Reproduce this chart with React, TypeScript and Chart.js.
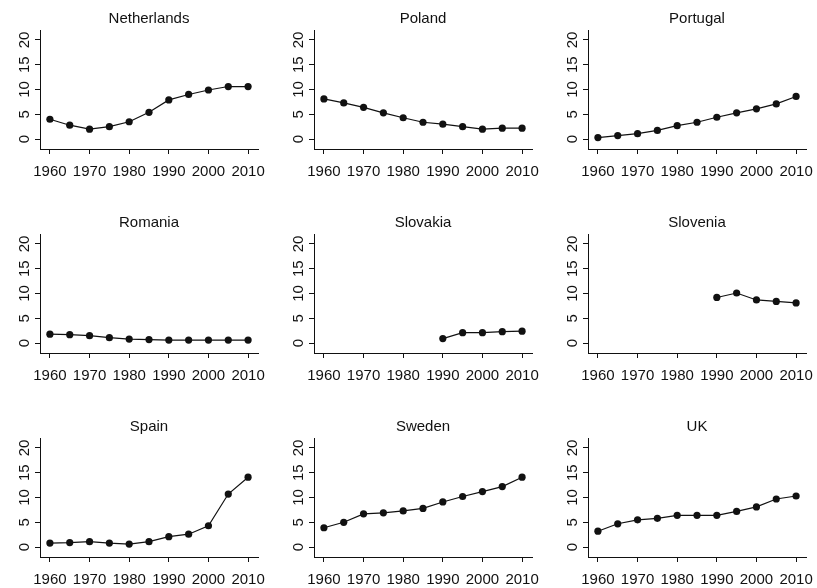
import React, { useEffect, useRef } from 'react';
import { Chart, registerables } from 'chart.js';

Chart.register(...registerables);

// ---- data ----
const years = [1960, 1965, 1970, 1975, 1980, 1985, 1990, 1995, 2000, 2005, 2010];

const netherlands = [4.0, 2.8, 2.0, 2.5, 3.5, 5.4, 7.9, 9.0, 9.9, 10.6, 10.6];
const poland = [8.1, 7.3, 6.4, 5.3, 4.3, 3.4, 3.0, 2.5, 2.0, 2.2, 2.2];
const portugal = [0.3, 0.7, 1.1, 1.75, 2.7, 3.4, 4.4, 5.3, 6.1, 7.1, 8.6];
const romania = [1.8, 1.7, 1.5, 1.1, 0.8, 0.7, 0.6, 0.6, 0.6, 0.6, 0.6];
const slovakia = [null, null, null, null, null, null, 0.9, 2.1, 2.1, 2.3, 2.4];
const slovenia = [null, null, null, null, null, null, 9.2, 10.1, 8.7, 8.4, 8.1];
const spain = [0.8, 0.9, 1.1, 0.8, 0.6, 1.1, 2.1, 2.6, 4.3, 10.7, 14.1];
const sweden = [3.9, 5.0, 6.7, 6.9, 7.3, 7.8, 9.1, 10.2, 11.2, 12.2, 14.1];
const uk = [3.2, 4.7, 5.5, 5.8, 6.4, 6.4, 6.4, 7.2, 8.1, 9.7, 10.3];

const countries = ['Netherlands', 'Poland', 'Portugal', 'Romania', 'Slovakia', 'Slovenia', 'Spain', 'Sweden', 'UK'];
const seriesList = [netherlands, poland, portugal, romania, slovakia, slovenia, spain, sweden, uk];

const xTicks = [1960, 1970, 1980, 1990, 2000, 2010];
const yTicks = [0, 5, 10, 15, 20];
const xMin = 1957.5;
const xMax = 2012.5;
const yMin = -2;
const yMax = 22;

// ---- layout ----
const FONT = '"Liberation Sans", Arial, Helvetica, sans-serif';
const INK = '#111111';
const CANVAS_W = 280;
const CANVAS_H = 179;
const PAD_RIGHT = 22;
const colLefts = [0, 274, 548];
const rowTops = [0, 204, 408];

const panelTitle = {
  id: 'panelTitle',
  afterDraw(chart: any, _args: any, opts: any) {
    const { ctx, chartArea } = chart;
    ctx.save();
    ctx.font = `15px ${FONT}`;
    ctx.fillStyle = INK;
    ctx.textAlign = 'center';
    ctx.textBaseline = 'alphabetic';
    ctx.fillText(opts.text, (chartArea.left + chartArea.right) / 2, chartArea.top - 7.5);
    ctx.restore();
  },
};

function Panel({ title, values, left, top }: { title: string; values: (number | null)[]; left: number; top: number }) {
  const ref = useRef<HTMLCanvasElement | null>(null);

  useEffect(() => {
    if (!ref.current) return;
    const data = years.map((yr, i) => ({ x: yr, y: values[i] }));
    const chart = new Chart(ref.current, {
      type: 'line',
      data: {
        datasets: [
          {
            data: data as any,
            borderColor: INK,
            borderWidth: 1.2,
            pointRadius: 3.6,
            pointBackgroundColor: INK,
            pointBorderWidth: 0,
            pointHoverRadius: 3.6,
            spanGaps: false,
            fill: false,
            tension: 0,
          },
        ],
      },
      options: {
        responsive: false,
        animation: false,
        events: [],
        layout: { padding: { top: 30, right: PAD_RIGHT, bottom: 0, left: 0 } },
        plugins: {
          legend: { display: false },
          tooltip: { enabled: false },
          title: { display: false },
          panelTitle: { text: title },
        } as any,
        scales: {
          x: {
            type: 'linear',
            min: xMin,
            max: xMax,
            afterBuildTicks: (scale: any) => {
              scale.ticks = xTicks.map((v) => ({ value: v }));
            },
            afterFit: (scale: any) => {
              scale.height = 30;
              scale.paddingLeft = 0;
              scale.paddingRight = 0;
            },
            grid: { display: true, drawOnChartArea: false, drawTicks: true, tickLength: 5, color: INK, lineWidth: 1 },
            border: { display: true, color: INK, width: 1 },
            ticks: {
              autoSkip: false,
              maxRotation: 0,
              minRotation: 0,
              padding: 9,
              color: INK,
              font: { family: FONT, size: 15 },
              callback: (v: any) => String(v),
            },
          },
          y: {
            type: 'linear',
            min: yMin,
            max: yMax,
            afterBuildTicks: (scale: any) => {
              scale.ticks = yTicks.map((v) => ({ value: v }));
            },
            afterFit: (scale: any) => {
              scale.width = 40;
              scale.paddingTop = 0;
              scale.paddingBottom = 0;
            },
            grid: { display: true, drawOnChartArea: false, drawTicks: true, tickLength: 5, color: INK, lineWidth: 1 },
            border: { display: true, color: INK, width: 1 },
            ticks: {
              autoSkip: false,
              minRotation: 90,
              maxRotation: 90,
              crossAlign: 'center',
              padding: 2,
              color: INK,
              font: { family: FONT, size: 15 },
              callback: (v: any) => String(v),
            },
          },
        },
      } as any,
      plugins: [panelTitle as any],
    });
    return () => chart.destroy();
  }, [title, values]);

  return (
    <canvas
      ref={ref}
      width={CANVAS_W}
      height={CANVAS_H}
      style={{ position: 'absolute', left, top, width: CANVAS_W, height: CANVAS_H }}
    />
  );
}

export default function App() {
  return (
    <div
      style={{
        position: 'absolute',
        left: 0,
        top: 0,
        width: 817,
        height: 588,
        background: '#ffffff',
        overflow: 'hidden',
      }}
    >
      {countries.map((name, i) => (
        <Panel
          key={name}
          title={name}
          values={seriesList[i]}
          left={colLefts[i % 3]}
          top={rowTops[Math.floor(i / 3)]}
        />
      ))}
    </div>
  );
}
